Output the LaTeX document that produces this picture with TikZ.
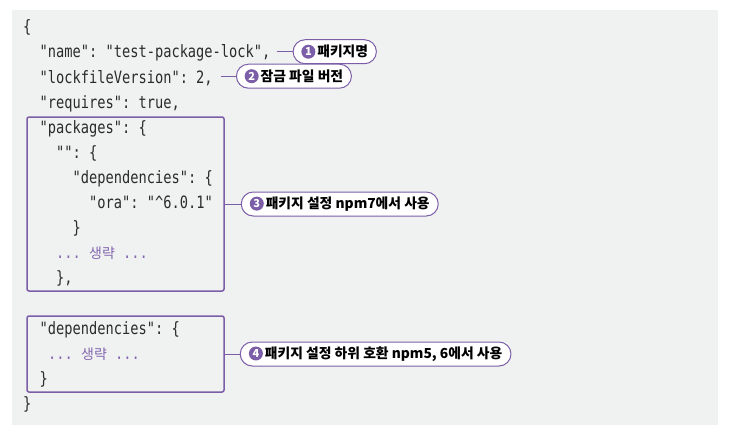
\documentclass[tikz,border=0pt]{standalone}
\usepackage{fontspec}
\usepackage{tikz}
\usetikzlibrary{positioning,shapes.misc}
\usepackage{xcolor}

\setmonofont[FakeStretch=0.805]{DejaVu Sans Mono}
\newfontfamily\krfont{Noto Sans CJK KR}

\definecolor{bggray}{HTML}{F0F1F1}
\definecolor{npurple}{HTML}{7B5EA7}
\definecolor{omitpurple}{HTML}{8468B0}
\definecolor{codetext}{HTML}{2B2B2B}

\newcommand{\codefont}{\ttfamily\fontsize{17}{19}\selectfont}
\newcommand{\omitfont}{\krfont\fontsize{14}{16}\selectfont}
\newcommand{\calloutfont}{\krfont\bfseries\fontsize{13.8}{16}\selectfont}
\newcommand{\callnum}[1]{\tikz[baseline={([yshift=-4.9pt]n.center)}]\node[numdot] (n) {#1};}

\begin{document}
\begin{tikzpicture}[
        x=1pt, y=-1pt,
        codeline/.style={
            anchor=base west,
            inner sep=0pt,
            font=\codefont,
            text=codetext
        },
        omitline/.style={
            codeline,
            text=omitpurple
        },
        codebox/.style={
            rectangle,
            draw=npurple,
            line width=1.5pt,
            rounded corners=2pt
        },
        pill/.style={
            rounded rectangle,
            draw=npurple,
            fill=white,
            line width=1pt,
            minimum height=24pt,
            inner xsep=6pt,
            inner ysep=0pt,
            font=\calloutfont,
            text=black
        },
        numdot/.style={
            circle,
            fill=npurple,
            text=white,
            inner sep=0pt,
            minimum size=14pt,
            font=\krfont\bfseries\fontsize{11}{11}\selectfont
        },
        leader/.style={
            draw=npurple,
            line width=1pt
        }
    ]

    % Background
    \useasboundingbox (0,0) rectangle (730,439);
    \fill[bggray] (12,10) rectangle (718,425);

    % Code lines
    \node [codeline] (open)     at (23,32.8)    {\{};
    \node [codeline] (lname)    at (39.5,57.9)  {"name": "test-package-lock",};
    \node [codeline] (llock)    at (39.5,83.0)  {"lockfileVersion": 2,};
    \node [codeline] (lreq)     at (39.5,108.1) {"requires": true,};
    \node [codeline] (lpkg)     at (39.5,133.2) {"packages": \{};
    \node [codeline] (lroot)    at (56,158.3)   {"": \{};
    \node [codeline] (ldeps)    at (72.5,183.4) {"dependencies": \{};
    \node [codeline] (lora)     at (89,208.5)   {"ora": "\textasciicircum 6.0.1"};
    \node [codeline] (ldepsend) at (72.5,233.6) {\}};
    \node [omitline] (lomit)    at (56,258.7)   {... {\omitfont 생략} ...};
    \node [codeline] (lrootend) at (56,283.8)   {\},};
    \node [codeline] (ldeps2)   at (39.5,334.0) {"dependencies": \{};
    \node [omitline] (lomit2)   at (48,359.1)   {... {\omitfont 생략} ...};
    \node [codeline] (ldeps2end) at (39.5,384.2) {\}};
    \node [codeline] (close)    at (23,409.3)   {\}};

    % Boxes
    \node [codebox, minimum width=197pt, minimum height=174pt] (pkgbox) at (125.5,204) {};
    \node [codebox, minimum width=197pt, minimum height=76pt] (depbox) at (125.5,354) {};

    % Callouts
    \coordinate (t1) at ([xshift=6pt,yshift=1.5pt]lname.east);
    \coordinate (t2) at ([xshift=8pt,yshift=1.5pt]llock.east);
    \node [pill, right=16pt of t1] (c1) {\callnum{1}\hspace{2pt}패키지명};
    \node [pill, right=15pt of t2] (c2) {\callnum{2}\hspace{2pt}잠금 파일 버전};
    \node [pill, right=16pt of pkgbox] (c3) {\callnum{3}\hspace{2pt}패키지 설정 npm7에서 사용};
    \node [pill, right=15pt of depbox] (c4) {\callnum{4}\hspace{2pt}패키지 설정 하위 호환 npm5, 6에서 사용};

    % Connections
    \path [leader] (t1) -- (c1);
    \path [leader] (t2) -- (c2);
    \path [leader] (pkgbox) -- (c3);
    \path [leader] (depbox) -- (c4);

\end{tikzpicture}
\end{document}
